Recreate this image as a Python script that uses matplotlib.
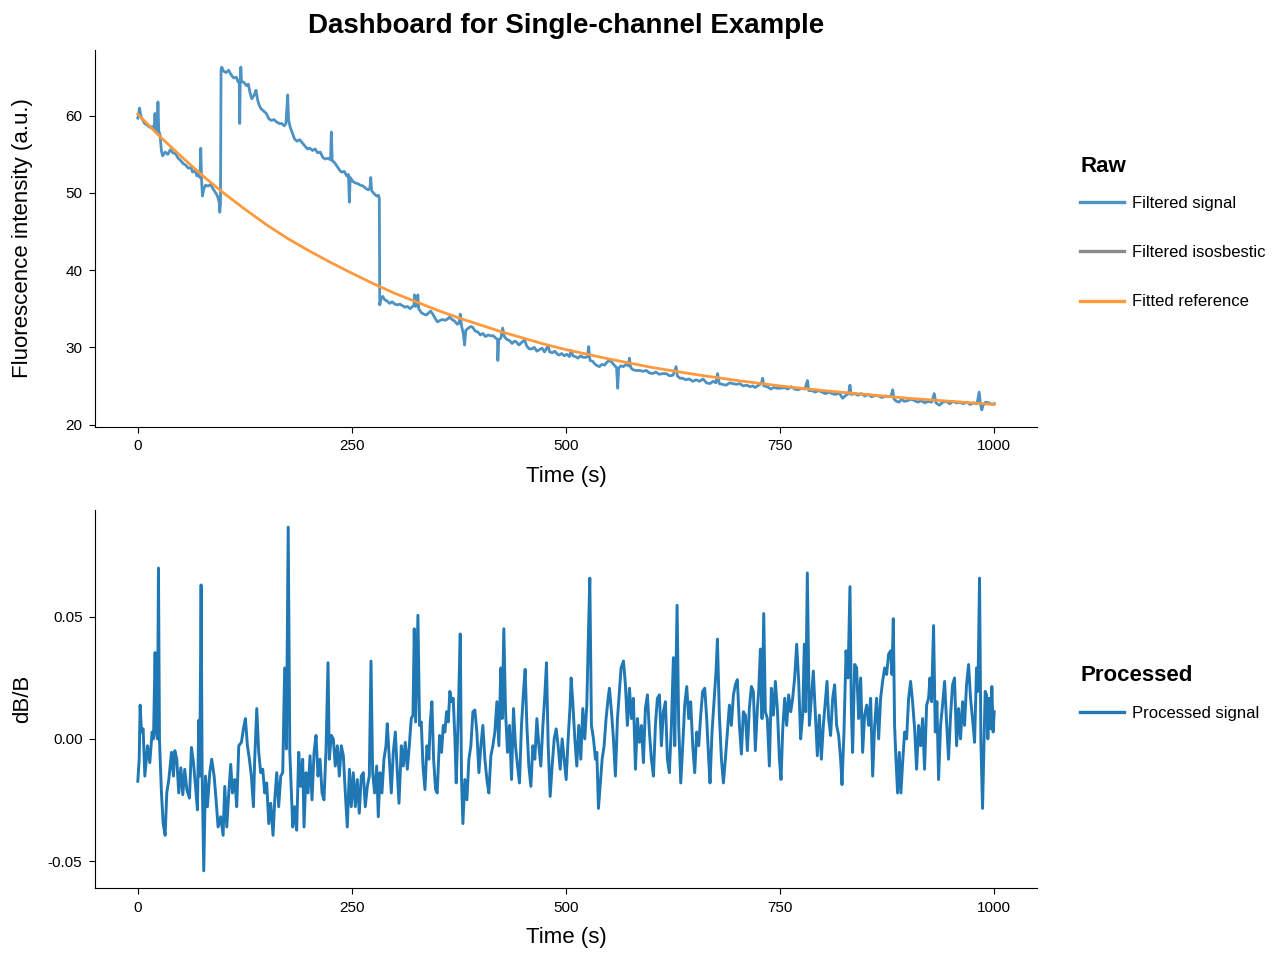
import numpy as np
import matplotlib
matplotlib.use("Agg")
import matplotlib.pyplot as plt
from matplotlib.lines import Line2D

plt.rcParams['font.family'] = ['Liberation Sans', 'DejaVu Sans']
plt.rcParams['axes.unicode_minus'] = False

# ---------------- data ----------------
# Raw filtered signal: (time s, fluorescence a.u.)
raw_signal_points = [
    (0, 59.7), (1, 60.2), (2, 61.0), (3.5, 60.0), (5, 59.6), (8, 59.0), (11, 58.8), (14, 58.5),
    (17, 58.6), (19, 58.2), (20, 60.3), (21, 58.3), (22.5, 58.0), (23.5, 61.8), (24.5, 58.0),
    (26, 57.5), (27.5, 55.5), (29, 54.8), (32, 55.3), (35, 55.0), (38, 55.6), (41, 55.2),
    (44, 55.1), (47, 54.5), (50, 54.2), (53, 53.8), (56, 53.6), (59, 53.2), (62, 53.3),
    (64, 52.7), (67, 52.9), (69, 52.2), (71, 52.5), (72.5, 52.0), (73.5, 55.8), (74.5, 51.5),
    (75.5, 49.6), (77, 50.5), (79, 51.0), (82, 50.9), (85, 51.1), (88, 50.5), (91, 50.0),
    (93, 49.6), (95, 48.8), (95.7, 47.5), (96.5, 48.5), (97.2, 66.0), (98, 66.3), (100, 65.8),
    (103, 65.6), (106, 65.9), (109, 65.3), (112, 64.9), (115, 65.0), (117, 64.4), (118.5, 64.6),
    (119, 59.0), (119.6, 64.5), (120.3, 66.3), (121, 64.5), (124, 64.3), (127, 63.9), (129, 64.1),
    (131, 63.0), (133, 62.2), (136, 62.7), (138, 63.3), (140, 62.0), (142, 61.3), (144, 60.9),
    (147, 60.6), (150, 60.3), (153, 59.6), (156, 59.4), (159, 59.5), (162, 59.2), (165, 59.0),
    (168, 59.0), (171, 58.7), (173, 59.0), (174, 60.8), (175, 62.7), (176, 59.5), (178, 58.5),
    (180, 57.9), (183, 57.0), (186, 56.7), (189, 56.9), (192, 56.5), (195, 56.1), (198, 55.7),
    (201, 55.8), (204, 55.5), (207, 55.7), (210, 55.2), (213, 55.3), (216, 54.6), (219, 54.4),
    (222, 54.5), (225, 54.3), (226, 57.9), (227, 54.2), (230, 53.9), (233, 53.4), (236, 52.9),
    (238, 52.7), (241, 52.8), (244, 52.2), (246, 52.4), (247, 48.8), (248, 52.0), (251, 51.5),
    (254, 51.3), (257, 51.2), (260, 51.0), (263, 50.9), (266, 50.6), (269, 50.4), (271, 50.6),
    (272, 52.0), (273, 50.3), (276, 49.9), (279, 49.6), (281, 49.7), (282, 49.3), (282.5, 35.5),
    (284, 36.3), (286, 36.6), (288, 36.2), (291, 36.0), (294, 35.7), (297, 35.9), (300, 35.6),
    (303, 35.5), (306, 35.6), (309, 35.4), (312, 35.2), (315, 35.3), (318, 35.0), (321, 35.3),
    (322.5, 35.5), (323, 36.8), (324, 35.3), (326, 35.4), (327, 36.8), (328, 35.0), (331, 34.5),
    (334, 34.3), (337, 34.2), (340, 34.5), (342, 34.7), (345, 34.2), (348, 33.6), (350, 33.3),
    (353, 33.5), (356, 33.6), (359, 33.5), (362, 33.7), (364, 33.9), (367, 33.6), (370, 33.4),
    (373, 33.0), (375, 33.1), (376.5, 34.3), (378, 32.8), (380, 31.8), (381.6, 30.3), (383, 32.2),
    (386, 32.5), (389, 32.7), (391, 32.6), (394, 32.1), (397, 32.0), (400, 31.6), (403, 31.8),
    (406, 31.4), (409, 31.6), (412, 31.5), (415, 31.5), (418, 31.2), (420, 31.0), (420.4, 28.3),
    (421.5, 31.0), (424, 31.2), (426, 32.5), (428, 31.4), (431, 31.0), (434, 30.9), (437, 30.5),
    (440, 30.8), (442, 30.7), (445, 30.3), (448, 30.6), (451.6, 31.0), (454, 30.2), (457, 29.8),
    (460, 29.8), (463, 30.0), (466, 29.5), (469, 29.7), (472, 29.9), (475, 29.4), (477, 29.8),
    (479, 30.2), (481, 29.4), (484, 29.3), (487, 29.5), (490, 29.1), (492, 29.0), (495, 29.2),
    (498, 28.9), (501, 29.1), (504, 28.8), (506, 29.6), (508, 28.9), (511, 28.8), (514, 28.6),
    (517, 28.9), (520, 28.7), (523, 28.7), (525, 28.8), (526.5, 30.1), (528, 28.3), (531, 28.2),
    (534, 27.8), (537, 27.6), (539, 27.5), (542, 27.8), (545, 27.7), (548, 28.1), (551, 28.3),
    (554, 28.0), (557, 27.6), (559, 27.4), (560.4, 24.7), (561.5, 27.3), (564, 27.6), (567, 27.5),
    (570, 27.8), (573, 27.6), (574, 28.6), (575.5, 27.4), (578, 27.1), (582, 27.0), (586, 27.0),
    (590, 26.9), (594, 27.0), (597, 26.7), (601, 26.6), (605, 26.8), (609, 26.5), (613, 26.6),
    (617, 26.6), (621, 26.3), (625, 26.4), (628.6, 27.5), (630, 26.3), (633, 26.0), (636, 26.0),
    (640, 25.8), (644, 25.9), (648, 25.6), (652, 25.8), (656, 25.6), (660, 25.9), (664, 25.4),
    (668, 25.3), (672, 25.6), (675, 25.4), (677, 26.6), (679, 25.3), (683, 25.2), (687, 25.1),
    (691, 25.4), (695, 25.3), (699, 25.2), (703, 25.3), (707, 25.0), (711, 25.1), (715, 24.9),
    (718, 25.0), (721, 24.8), (725, 25.1), (728, 25.3), (729.7, 26.0), (731, 25.0), (735, 24.9),
    (739, 24.6), (743, 24.8), (747, 24.7), (751, 24.7), (755, 24.8), (759, 24.6), (763, 24.9),
    (767, 24.6), (771, 24.5), (775, 24.7), (779, 24.6), (782, 25.7), (783.5, 24.4), (787, 24.4),
    (791, 24.2), (795, 24.4), (799, 24.2), (803, 24.0), (807, 24.2), (811, 24.0), (815, 23.9),
    (819, 24.1), (823, 23.4), (827, 23.8), (830, 24.0), (831.6, 25.1), (833, 23.9), (837, 24.0),
    (841, 23.8), (845, 24.0), (849, 23.7), (853, 23.9), (857, 23.6), (861, 23.8), (865, 23.7),
    (869, 23.5), (873, 23.7), (877, 23.6), (880, 23.8), (881.5, 24.5), (883, 23.3), (886, 23.0),
    (889, 22.9), (892, 23.3), (895, 23.0), (899, 23.1), (903, 23.3), (907, 23.1), (911, 22.9),
    (915, 23.1), (919, 22.8), (923, 23.0), (927, 22.9), (930, 24.0), (932, 22.8), (936, 22.5),
    (940, 22.9), (944, 23.0), (948, 22.7), (952, 23.0), (956, 22.8), (960, 22.9), (964, 22.7),
    (968, 22.9), (972, 22.6), (976, 22.8), (980, 22.7), (982.5, 24.2), (984, 22.6), (985.6, 21.9),
    (987, 22.5), (990, 22.9), (994, 22.8), (997, 22.6), (1000, 22.7),
]

# Fitted reference curve
fit_time = [0, 25, 50, 75, 100, 125, 150, 175, 200, 225, 250, 275, 300, 325, 350, 375,
            400, 425, 450, 475, 500, 550, 600, 650, 700, 750, 800, 850, 900, 950, 1000]
fit_values = [60.2, 57.4, 54.8, 52.3, 50.0, 47.9, 45.9, 44.1, 42.5, 41.0, 39.6, 38.25, 37.0,
              35.9, 34.8, 33.8, 32.9, 32.0, 31.2, 30.4, 29.7, 28.5, 27.4, 26.5, 25.7, 25.0,
              24.4, 23.9, 23.4, 23.0, 22.6]

# Processed signal: (time s, dB/B in percent)
processed_points_pct = [
    (0, -1.73), (1.6, -0.83), (2.7, 1.38), (4.3, 0.28), (6.2, 0.41), (8.2, -1.52), (11.3, -0.28),
    (14, -0.97), (16.7, 0.28), (18.3, 0), (20.2, 3.53), (21.4, 0.28), (22.9, 0), (24.1, 6.98),
    (25.3, -0.07), (27.6, -2.21), (29.6, -3.46), (31.9, -3.94), (33.8, -2.21), (36.2, -1.66),
    (39.3, -0.55), (41.6, -1.52), (43.2, -0.48), (45.5, -0.83), (47.8, -2.21), (50.2, -1.18),
    (52.5, -2.28), (54.8, -1.24), (57.2, -2.07), (60.3, -2.42), (62.6, -0.35), (65, -0.97),
    (67.7, -2.07), (69.6, -2.9), (71.2, 0.76), (72.3, -1.52), (73.9, 6.29), (75.1, -1.38),
    (77, -5.39), (79, -1.52), (81.3, -2.77), (84, -1.38), (86.3, -0.83), (89.1, -1.52),
    (91.4, -2.49), (93.7, -3.6), (96.8, -3.18), (99.6, -3.94), (101.5, -1.94), (103.9, -3.6),
    (106.2, -2.21), (108.5, -1.04), (110.5, -2.21), (113.2, -1.66), (115.5, -2.77), (117.9, -0.28),
    (121, -0.14), (123.3, 0.41), (125.6, 0.83), (128, -0.28), (130.3, -0.83), (132.6, -1.52),
    (135, -2.77), (136.5, -0.83), (138.9, 1.24), (141.2, -0.55), (143.5, -1.38), (145.9, -1.24),
    (148.2, -2.21), (150.5, -1.8), (152.9, -3.46), (155.2, -2.63), (157.9, -3.94), (159.9, -2.49),
    (162.2, -1.38), (164.5, -2.77), (166.9, -1.52), (169.2, -1.38), (171.5, 2.9), (173.5, -0.41),
    (175.6, 8.65), (177.5, -0.55), (180.9, -3.6), (183.2, -2.77), (185.5, -3.73), (187.9, -0.55),
    (190.2, -1.94), (192.5, -0.83), (194.1, -3.6), (196.4, -1.38), (198.8, -2.21), (201.1, -0.69),
    (203.4, -2.49), (205.8, -0.55), (208.1, 0.14), (210.4, -1.52), (212.8, -0.83), (215.1, -2.21),
    (217.4, -2.49), (219.8, -0.41), (222.1, 3.11), (223.6, -0.83), (226, 0.14), (228.3, 0),
    (230.6, -1.11), (233, -0.28), (235.3, -1.52), (237.6, -0.28), (240, -0.69), (242.3, -2.21),
    (244.6, -3.6), (247.1, -1.24), (249.3, -2.77), (251.6, -1.38), (254, -2.77), (256.3, -1.66),
    (258.6, -3.04), (261, -1.52), (263.3, -1.38), (265.6, -2.77), (268, -1.94), (270.3, -1.52),
    (272.3, 3.18), (274.2, -1.38), (276.5, -2.21), (278.9, -1.11), (280.8, -3.18), (282.8, -1.38),
    (285.1, -2.21), (287.4, -0.83), (289.8, -0.28), (291.3, 0.62), (293.7, -0.83), (296, -2.21),
    (298.3, -0.55), (300.7, 0.28), (303, -1.38), (305, -2.63), (307.7, -0.28), (310, -1.11),
    (312.3, -0.14), (314.7, -1.24), (317, -0.28), (319.3, 0.83),
    (321.3, 0.97), (322.8, 4.5), (324.4, 0.69), (327.1, 5.05), (329, 0.55), (331, 0.69),
    (333, -1.11), (335.3, -2.07), (337.6, -0.28), (339.9, -0.83), (341.5, 0.69), (343.4, 1.52),
    (345.4, -0.83), (347.7, -2.07), (349.6, -2.21), (352.4, 0.14), (354.7, -0.55), (356.7, 0.55),
    (358.6, 0.28), (360.5, 1.11), (362.5, 0.69), (364.4, 1.94), (366.4, 1.52), (368.3, 1.66),
    (370.3, 0), (371.8, -1.8), (374.2, 0.97), (376.5, 4.29), (378, -1.66), (379.6, -3.46),
    (381.9, -1.66), (384.3, -2.49), (386.6, -0.83), (388.9, -0.28), (391.3, 1.11), (393.6, 1.18),
    (395.9, 0.28), (398.3, -1.38), (400.6, -0.28), (402.9, 0.55), (405.3, -0.83), (407.6, -1.66),
    (409.9, -2.21), (412.3, -0.69), (414.6, -0.28), (416.9, 0.28), (419.3, 1.52), (421.6, -0.28),
    (423.9, 2.9), (425.5, 0.83), (427.4, 4.5), (429.4, 1.11), (431.7, -0.55), (434, 0.55),
    (436.4, -1.66), (438.7, 1.24), (441, -0.28), (443.4, -1.11), (445.7, -1.8), (448, 0.55),
    (450.4, 1.94), (452.3, 2.84), (454.3, 0.55), (456.6, -1.11), (459, -1.94), (461.3, -0.28),
    (463.6, -0.83), (466, 0.83), (468.3, -0.28), (470.6, -1.11), (473, 0.55), (475.3, 1.8),
    (477.2, 3.11), (479.2, -0.28), (481.5, -2.35), (483.8, -1.11), (486.2, 0), (488.5, 0.41),
    (490.8, -0.28), (493.2, -1.24), (495.5, 0), (497.8, -0.83), (500.2, -1.66), (502.5, 0),
    (504.8, 1.38), (506, 2.49), (507.9, 1.52), (510.3, 0), (512.6, -1.11), (514.9, 0.55),
    (517.3, -0.83), (519.6, 1.24), (521.9, 0), (524.3, 1.38), (525.8, 3.73), (527.8, 6.57),
    (529.7, 0.55), (532.1, 0), (534.4, -0.83), (536, -0.55), (537.9, -2.84), (539.8, -1.94),
    (542.2, -0.83), (544.5, -0.28), (546.8, 0.83), (549.2, 1.66), (550.7, 2.07), (553.1, 1.11),
    (555.4, 0), (557.7, -1.52), (560.1, 0.83), (562.4, 1.94), (564.3, 2.9), (567.1, 3.18),
    (569.4, 2.21), (571.7, 0.55), (574.1, 2.07), (576.4, 0.83), (578.7, 1.66), (581.1, -1.24),
    (583.4, 0.83), (585.7, -0.14), (588.1, 0.55), (590.4, -0.97), (592.7, 1.24), (595.1, 1.8),
    (597.4, 0.28), (599.7, -0.83), (602.1, -1.52), (604.4, 0.55), (606.7, 1.66), (609.1, 1.8),
    (611.4, -0.28), (613.7, 1.11), (616.1, 1.52), (618.4, -0.83), (620.7, -1.38), (623.1, 0.55),
    (625.4, 3.32), (627, -0.28), (629.7, 5.46), (631.6, 0.55), (634, -1.8), (636.3, -0.28),
    (638.6, 1.38), (641, 2.14), (643.3, 0.83), (645.6, 1.52), (648, -0.28), (650.3, -1.38),
    (652.6, 0.28), (655, -0.28), (657.3, 0.97), (659.6, 1.94), (662, 2.07), (664.3, 0.83),
    (666.6, -0.83), (668.2, -1.8), (670.5, 0.28), (672.9, 1.52), (675.2, 2.77), (676.8, 4.08),
    (678.3, 1.94),
    (679.1, 0.97), (681.5, -0.83), (683.8, -1.8), (686.1, -0.83), (688.5, 0.28), (690.8, 1.38),
    (693.1, 0.55), (695.5, 1.8), (697.8, 2.21), (700.1, 2.42), (702.5, 0.55), (704.8, -0.62),
    (707.1, 1.11), (709.5, 0.97), (711.8, -0.48), (714.1, 1.24), (716.5, 2.14), (718.8, 1.94),
    (721.1, -0.48), (723.5, 1.24), (725, 1.94), (727, 3.67), (728.9, 0.83), (730.9, 5.12),
    (732.8, 1.11), (735.1, 0.83), (737.5, -1.11), (739.8, 2.07), (742.2, 0.97), (744.5, 2.35),
    (746.8, 1.24), (749.2, -0.83), (751.1, -1.66), (753.1, 0.41), (755.4, 1.66), (757.7, 0.55),
    (760, 1.8), (762.4, 1.11), (764.7, 1.66), (767, 2.49), (769.4, 3.87), (771.7, 2.35),
    (774, 0), (776.4, 0.97), (778.3, 3.87), (779.9, 1.11), (781.8, 6.78), (784.2, 0.55),
    (786.5, 1.66), (788.8, 2.77), (791.2, 0.97), (793.5, -0.69), (795.8, 0.97), (798.2, -0.83),
    (800.5, 0.55), (802.8, 1.52), (804.8, 2.35), (806.7, 0.83), (809, 0.14), (811.4, 1.66),
    (813.7, 2.21), (816, 0.55), (818.4, 0.14), (820.7, -0.83), (822.3, -1.87), (824.6, 0.28),
    (827, 3.6), (829.3, 2.49), (831.6, 6.22), (833.2, 1.24), (834.7, -0.55), (837.1, 3.04),
    (839.4, 2.9), (841.7, 0.83), (844.1, 2.49), (846.4, -0.55), (848.7, 0.97), (851.1, 1.38),
    (853.4, 0.55), (855.7, 1.66), (858.1, -1.52), (860.4, 0.55), (862.7, 1.66), (865.1, 0),
    (867.4, 1.66), (869.7, 2.35), (872.1, 2.9), (874.4, 2.63), (876.7, 3.46), (879.1, 3.6),
    (880.6, 2.63), (882.2, 4.91), (883.7, 0.55), (885.3, -0.83), (887.2, -2.21), (889.2, -0.55),
    (891.1, -2.21), (893.1, -0.97), (895.4, 0.28), (897.7, 0), (900.1, 1.66), (902.4, 2.35),
    (904.7, 1.52), (907.1, 0.41), (909.4, -1.24), (911.7, 0.55), (914.1, -0.28), (916.4, 0.83),
    (918.7, -1.24), (921.1, 1.38), (923.4, 1.66), (925, 2.49), (926.9, 1.52), (929.2, 4.63),
    (931.2, 0.28), (933.1, 1.52), (935.1, -1.66), (937.4, 0.55), (939.7, 1.38), (942.1, 2.35),
    (944.4, 0.69), (946.7, -0.83), (949.1, 0.97), (951.4, 2.21), (953.7, 2.49), (956.1, -0.28),
    (958.4, 1.24), (960.7, 0), (963.1, 1.52), (965.4, 0.55), (967.7, 2.21), (970.1, 3.04),
    (972.4, 1.66), (974.7, 0.83), (977.1, -0.14), (979.4, 2.9), (981, 1.94), (982.9, 6.57),
    (984.5, -0.14), (986.4, -2.84), (988, -0.28), (989.5, 1.94), (991.1, 1.8), (992.6, 0),
    (994.2, 1.66), (995.7, 0.41), (997.3, 2.14), (998.8, 0.28), (1000, 1.11),
]

raw_xticks = [0, 250, 500, 750, 1000]
raw_yticks = [20, 30, 40, 50, 60]
proc_yticks = [-0.05, 0.0, 0.05]

title = "Dashboard for Single-channel Example"
raw_legend_labels = ["Filtered signal", "Filtered isosbestic", "Fitted reference"]
proc_legend_labels = ["Processed signal"]

# ---------------- styling ----------------
c_signal = "#4c92c3"
c_iso = "#8a8a8a"
c_fit = "#ff993e"
c_proc = "#1f77b4"

raw_t, raw_v = np.array(raw_signal_points).T
proc_t, proc_pct = np.array(processed_points_pct).T
proc_v = proc_pct / 100.0

fig = plt.figure(figsize=(12.8, 9.6), dpi=100)
ax1 = fig.add_axes([95 / 1280, 1 - 427 / 960, (1037 - 95) / 1280, (427 - 50) / 960])
ax2 = fig.add_axes([95 / 1280, 1 - 888 / 960, (1037 - 95) / 1280, (888 - 510) / 960])

ax1.plot(raw_t, raw_v, color=c_signal, lw=2)
ax1.plot(fit_time, fit_values, color=c_fit, lw=2)
ax2.plot(proc_t, proc_v, color=c_proc, lw=2.1)

for ax in (ax1, ax2):
    ax.spines['top'].set_visible(False)
    ax.spines['right'].set_visible(False)
    ax.set_xticks(raw_xticks)
    ax.tick_params(labelsize=11, length=4.5, pad=4.5)
    ax.set_xlabel("Time (s)", fontsize=16, labelpad=9)
    ax.yaxis.set_label_coords(-0.066, 0.5)

ax1.set_yticks(raw_yticks)
ax2.set_yticks(proc_yticks)
ax2.set_yticklabels([f"{v:.2f}" for v in proc_yticks])
ax1.set_ylabel("Fluorescence intensity (a.u.)", fontsize=16)
ax2.set_ylabel("dB/B", fontsize=16)
ax1.set_title(title, fontsize=20, fontweight='bold', pad=12)

leg_kw = dict(loc='center left', bbox_to_anchor=(1.03, 0.516), frameon=False, fontsize=12,
              title_fontproperties={'weight': 'bold', 'size': 16},
              handlelength=2.6, handletextpad=0.5, labelspacing=2.05)

h_raw = [Line2D([], [], color=c, lw=2.4) for c in (c_signal, c_iso, c_fit)]
leg1 = ax1.legend(h_raw, raw_legend_labels, title="Raw", **leg_kw)
h_proc = [Line2D([], [], color=c_proc, lw=2.4)]
leg2 = ax2.legend(h_proc, proc_legend_labels, title="Processed", **leg_kw)
for leg in (leg1, leg2):
    leg._legend_box.align = "left"
    leg._legend_box.sep = 14

fig.savefig("out.png", dpi=100)
